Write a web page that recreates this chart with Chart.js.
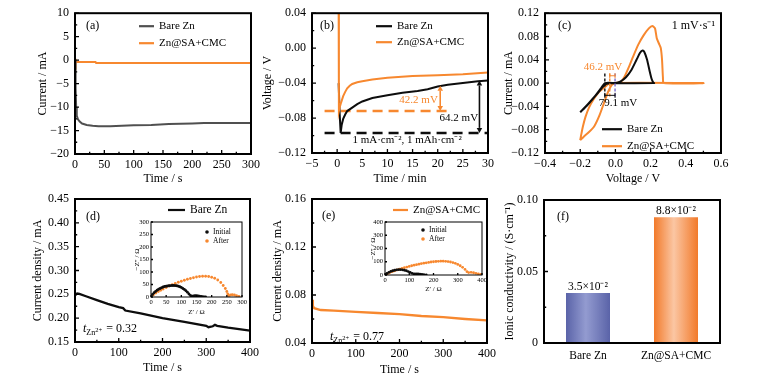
<!DOCTYPE html>
<html>
<head>
<meta charset="utf-8">
<script src="https://cdn.jsdelivr.net/npm/chart.js@4.4.1/dist/chart.umd.min.js"></script>
<style>
  body { margin: 0; background: #fff; width: 759px; height: 382px; position: relative; overflow: hidden; }
  canvas { position: absolute; }
</style>
</head>
<body>
<script>
// ---- data ----
// (a) current vs time
const aTime = [0, 1, 2, 3, 5, 8, 12, 20, 30, 40, 50, 60, 80, 100, 130, 160, 200, 220, 250, 300];
const aBare = [0, -6, -10, -11.8, -12.6, -13.1, -13.5, -13.8, -14.0, -14.1, -14.1, -14.1, -14.0, -13.9, -13.8, -13.6, -13.5, -13.4, -13.4, -13.4];
const aCoatTime = [0, 1, 2, 35, 36, 300];
const aCoat = [0.3, -0.3, -0.35, -0.4, -0.6, -0.6];

// (b) voltage vs time
const bBareTime = [0.3, 0.5, 0.7, 0.9, 1.2, 1.6, 2, 3, 4, 5, 7, 10, 13, 16, 18, 20, 22, 25, 28, 30];
const bBare = [-0.040, -0.075, -0.097, -0.088, -0.081, -0.076, -0.072, -0.068, -0.064, -0.061, -0.057, -0.054, -0.051, -0.049, -0.047, -0.044, -0.042, -0.040, -0.038, -0.037];
const bCoatTime = [0.3, 0.35, 0.5, 0.8, 1.2, 1.6, 2, 2.5, 3, 4, 5, 7, 10, 15, 20, 25, 30];
const bCoat = [0.045, -0.072, -0.068, -0.062, -0.055, -0.050, -0.046, -0.043, -0.041, -0.039, -0.038, -0.036, -0.034, -0.032, -0.031, -0.030, -0.028];
const bDashX = [[-2.5, 22.5], [-2.5, 30]];
const bDashY = [-0.072, -0.097];
const bGapT = [20.5, 28.3];
const bGapTop = [-0.043, -0.037];
const bGapBot = [-0.072, -0.097];

// (c) cyclic voltammetry
const cBareV = [-0.2, -0.15, -0.1, -0.07, -0.05, 0, 0.03, 0.06, 0.09, 0.12, 0.14, 0.155, 0.165, 0.18, 0.195, 0.205, 0.215, 0.22, 0, -0.06, -0.08, -0.12, -0.16, -0.2];
const cBareI = [-0.05, -0.034, -0.017, -0.006, -0.001, 0, 0.003, 0.01, 0.022, 0.04, 0.052, 0.056, 0.053, 0.04, 0.02, 0.008, 0.001, 0, 0, 0, -0.008, -0.024, -0.038, -0.05];
const cCoatV = [-0.2, -0.18, -0.15, -0.12, -0.09, -0.06, -0.04, -0.02, 0, 0.03, 0.05, 0.08, 0.1, 0.13, 0.16, 0.19, 0.21, 0.225, 0.235, 0.25, 0.258, 0.265, 0.27, 0.275, 0.5, -0.03, -0.06, -0.09, -0.12, -0.15, -0.17, -0.185, -0.195, -0.2];
const cCoatI = [-0.098, -0.092, -0.084, -0.074, -0.055, -0.03, -0.014, -0.003, 0, 0.002, 0.01, 0.03, 0.045, 0.066, 0.082, 0.094, 0.098, 0.094, 0.077, 0.066, 0.06, 0.04, 0.01, 0, 0, 0, -0.007, -0.014, -0.026, -0.042, -0.058, -0.075, -0.09, -0.098];
const cMarkV = [-0.06, -0.032, -0.002];

// (d) Bare Zn polarisation + EIS inset
const dTime = [0, 5, 10, 25, 50, 75, 100, 110, 115, 150, 200, 250, 300, 305, 315, 320, 325, 350, 375, 400];
const dBare = [0.248, 0.252, 0.251, 0.246, 0.238, 0.230, 0.223, 0.221, 0.216, 0.210, 0.200, 0.192, 0.184, 0.181, 0.183, 0.186, 0.184, 0.180, 0.177, 0.174];
const dInitRe = [0, 5, 10, 15, 20, 25, 30, 35, 40, 45, 50, 55, 60, 65, 70, 75, 80, 85, 90, 95, 100, 105, 110, 115, 120, 125, 130, 135, 140, 145, 150, 155, 160, 165, 170, 175, 180];
const dInitIm = [0, 10, 17, 22, 27, 31, 34, 37, 40, 42, 43, 44, 45, 45.5, 46, 46, 45.5, 45, 43, 41, 38, 34, 30, 25, 19, 12, 6, 3, 4, 5, 5, 4, 3, 2, 1, 0.5, 0];
const dAfterRe = [0, 8, 16, 24, 32, 40, 50, 60, 70, 80, 90, 100, 110, 120, 130, 140, 150, 160, 170, 180, 190, 200, 210, 220, 230, 238, 245, 250, 253, 256, 262, 268, 275, 282, 290];
const dAfterIm = [0, 9, 16, 22, 27, 32, 38, 44, 49, 54, 59, 63, 67, 71, 74, 77, 80, 82, 83, 83, 82, 79, 75, 68, 58, 46, 34, 22, 12, 5, 8, 9, 8, 5, 2];

// (e) Zn@SA+CMC polarisation + EIS inset
const eTime = [0, 2, 5, 20, 50, 100, 150, 200, 250, 300, 350, 400];
const eCoat = [0.076, 0.071, 0.069, 0.0675, 0.067, 0.066, 0.065, 0.064, 0.0625, 0.0615, 0.060, 0.0588];
const eInitRe = [0, 8, 16, 24, 32, 40, 48, 56, 64, 72, 80, 88, 96, 104, 112, 120, 128, 136, 144, 152, 160, 170];
const eInitIm = [0, 12, 20, 27, 32, 36, 39, 40, 40, 39, 36, 32, 26, 20, 13, 8, 9, 8, 6, 4, 2, 0];
const eAfterRe = [0, 10, 20, 30, 40, 50, 60, 70, 80, 90, 100, 110, 120, 130, 140, 150, 160, 170, 180, 190, 200, 210, 220, 230, 240, 250, 260, 270, 280, 290, 300, 310, 320, 330, 338, 345, 355, 365, 375, 385, 395];
const eAfterIm = [0, 10, 18, 25, 32, 38, 44, 50, 55, 60, 65, 70, 74, 78, 82, 86, 89, 92, 95, 98, 100, 102, 103, 104, 104, 103, 101, 98, 94, 88, 80, 70, 58, 42, 25, 18, 20, 17, 13, 9, 4];

// (f) ionic conductivity
const fCats = ['Bare Zn', 'Zn@SA+CMC'];
const fValues = [0.035, 0.088];
const fLabels = ['3.5×10⁻²', '8.8×10⁻²'];

// ---- styling ----
const SERIF = "'Liberation Serif', 'Times New Roman', serif";
const GRAY = '#505050', BLACK = '#0d0d0d', ORANGE = '#f7882f', PURPLE = '#7a6cc8';
Chart.defaults.font.family = SERIF;
Chart.defaults.font.size = 12;
Chart.defaults.color = '#000';
Chart.defaults.animation = false;
Chart.defaults.responsive = false;
Chart.defaults.plugins.legend.display = false;
Chart.defaults.plugins.tooltip.enabled = false;

const xy = (xs, ys) => xs.map((x, i) => ({ x, y: ys[i] }));
const fmt = (v, d) => {
    if (Math.abs(v) < 1e-9) v = 0;
    return v.toFixed(d).replace('-', '\u2212');
};

function txt(ctx, s, x, y, size, color, align, style) {
    ctx.font = (style || '') + ' ' + size + 'px ' + SERIF;
    ctx.fillStyle = color || '#000';
    ctx.textAlign = align || 'left';
    ctx.textBaseline = 'middle';
    ctx.fillText(s, x, y);
}

function legendLines(ctx, x, y, items, size, gap, len) {
    items.forEach((it, i) => {
        const yy = y + i * gap;
        ctx.strokeStyle = it.color;
        ctx.lineWidth = 2.2;
        ctx.beginPath();
        ctx.moveTo(x, yy);
        ctx.lineTo(x + len, yy);
        ctx.stroke();
        txt(ctx, it.text, x + len + 5, yy, size);
    });
}

function legendDots(ctx, x, y, items, size, gap) {
    items.forEach((it, i) => {
        const yy = y + i * gap;
        ctx.fillStyle = it.color;
        ctx.beginPath();
        ctx.arc(x, yy, 1.8, 0, Math.PI * 2);
        ctx.fill();
        txt(ctx, it.text, x + 6, yy, size);
    });
}

function arrowHead(ctx, x, y, dir, s) {
    ctx.beginPath();
    ctx.moveTo(x, y);
    ctx.lineTo(x - s * 0.55, y - dir * s);
    ctx.lineTo(x + s * 0.55, y - dir * s);
    ctx.closePath();
    ctx.fill();
}

function vDouble(ctx, x, yTop, yBot, color, s) {
    ctx.strokeStyle = color;
    ctx.fillStyle = color;
    ctx.lineWidth = 1.6;
    ctx.beginPath();
    ctx.moveTo(x, yTop + s);
    ctx.lineTo(x, yBot - s);
    ctx.stroke();
    arrowHead(ctx, x, yTop, -1, s);
    arrowHead(ctx, x, yBot, 1, s);
}

function hBracket(ctx, x1, x2, y, color) {
    ctx.strokeStyle = color;
    ctx.lineWidth = 1;
    ctx.beginPath();
    ctx.moveTo(x1, y); ctx.lineTo(x2, y);
    ctx.moveTo(x1, y - 2.5); ctx.lineTo(x1, y + 2.5);
    ctx.moveTo(x2, y - 2.5); ctx.lineTo(x2, y + 2.5);
    ctx.stroke();
}

function tLabel(ctx, x, y, val) {
    txt(ctx, 't', x, y, 12, '#000', 'left', 'italic');
    const w1 = ctx.measureText('t').width;
    txt(ctx, 'Zn', x + w1, y + 4, 8);
    const w2 = ctx.measureText('Zn').width;
    txt(ctx, '2+', x + w1 + w2, y + 1, 6.5);
    const w3 = ctx.measureText('2+').width;
    txt(ctx, ' = ' + val, x + w1 + w2 + w3 + 1, y, 12);
}

// box around the plot with inward ticks
const frame = {
    id: 'frame',
    afterDatasetsDraw(chart, args, o) {
        const { ctx, chartArea: a } = chart;
        const lw = o.lw || 2, len = o.len || 4;
        ctx.save();
        ctx.strokeStyle = '#000';
        ctx.lineWidth = 1.3;
        ctx.beginPath();
        const mark = (scale, horiz) => {
            const t = scale.ticks.map(k => k.value);
            const vals = t.map(v => [v, len]);
            if (o.minor) for (let i = 0; i < t.length - 1; i++) vals.push([(t[i] + t[i + 1]) / 2, len * 0.55]);
            vals.forEach(([v, l]) => {
                const p = scale.getPixelForValue(v);
                if (horiz) { ctx.moveTo(p, a.bottom); ctx.lineTo(p, a.bottom - l); }
                else { ctx.moveTo(a.left, p); ctx.lineTo(a.left + l, p); }
            });
        };
        if (o.xTicks !== false) mark(chart.scales.x, true);
        mark(chart.scales.y, false);
        ctx.stroke();
        ctx.lineWidth = lw;
        ctx.strokeRect(a.left, a.top, a.right - a.left, a.bottom - a.top);
        ctx.restore();
    }
};

function linAxis(min, max, step, dec, title, o) {
    o = o || {};
    return {
        type: 'linear', min: min, max: max,
        grid: { display: false, drawTicks: false },
        border: { display: false },
        ticks: {
            stepSize: step, padding: o.pad || 4, maxRotation: 0, autoSkip: false,
            font: { size: o.size || 12 },
            callback: v => fmt(v, dec)
        },
        title: { display: !!title, text: title, padding: 0, font: { size: o.tsize || 12 } }
    };
}

function panel(box, plot, cfg, frameOpts) {
    const w = box.r - box.l, h = box.b - box.t;
    const c = document.createElement('canvas');
    c.width = w; c.height = h;
    c.style.left = box.l + 'px';
    c.style.top = box.t + 'px';
    c.style.width = w + 'px';
    c.style.height = h + 'px';
    document.body.appendChild(c);
    cfg.options.layout = { padding: { top: plot.t - box.t, right: box.r - plot.r, left: 0, bottom: 0 } };
    cfg.options.scales.x.afterFit = s => { s.height = box.b - plot.b; };
    cfg.options.scales.y.afterFit = s => { s.width = plot.l - box.l; };
    cfg.options.plugins = cfg.options.plugins || {};
    cfg.options.plugins.frame = Object.assign({ minor: true }, frameOpts || {});
    cfg.plugins = (cfg.plugins || []).concat([frame]);
    return new Chart(c.getContext('2d'), cfg);
}

const lineDs = (label, data, color, extra) => Object.assign({
    label: label, data: data, borderColor: color, backgroundColor: color,
    borderWidth: 2, pointRadius: 0, tension: 0, fill: false
}, extra || {});

const dotDs = (label, data, color) => ({
    label: label, data: data, borderColor: color, backgroundColor: color,
    pointRadius: 1.4, pointBorderWidth: 0, showLine: false
});

// ---- (a) ----
panel({ l: 36, t: 0, r: 275, b: 186 }, { l: 75, t: 10, r: 251, b: 154 }, {
    type: 'line',
    data: { datasets: [
        lineDs('Bare Zn', xy(aTime, aBare), GRAY),
        lineDs('Zn@SA+CMC', xy(aCoatTime, aCoat), ORANGE)
    ] },
    options: { scales: {
        x: linAxis(0, 300, 50, 0, 'Time / s'),
        y: linAxis(-20, 10, 5, 0, 'Current / mA', { pad: 6 })
    } },
    plugins: [{ id: 'notesA', afterDraw(chart) {
        const { ctx, chartArea: a } = chart;
        txt(ctx, '(a)', a.left + 11, a.top + 13, 12);
        legendLines(ctx, a.left + 64, a.top + 13, [
            { text: 'Bare Zn', color: GRAY }, { text: 'Zn@SA+CMC', color: ORANGE }
        ], 11, 17, 15);
    } }]
});

// ---- (b) ----
panel({ l: 261, t: 0, r: 505, b: 186 }, { l: 312, t: 10, r: 488, b: 153 }, {
    type: 'line',
    data: { datasets: [
        lineDs('Zn@SA+CMC', xy(bCoatTime, bCoat), ORANGE),
        lineDs('Bare Zn', xy(bBareTime, bBare), BLACK),
        lineDs('', xy(bDashX[0], [bDashY[0], bDashY[0]]), ORANGE, { borderWidth: 2.5, borderDash: [10, 6] }),
        lineDs('', xy(bDashX[1], [bDashY[1], bDashY[1]]), BLACK, { borderWidth: 2.5, borderDash: [10, 6] })
    ] },
    options: { scales: {
        x: linAxis(-5, 30, 5, 0, 'Time / min'),
        y: linAxis(-0.12, 0.04, 0.04, 2, 'Voltage / V', { pad: 6 })
    } },
    plugins: [{ id: 'notesB', afterDraw(chart) {
        const { ctx, chartArea: a, scales: { x, y } } = chart;
        txt(ctx, '(b)', a.left + 8, a.top + 13, 12);
        legendLines(ctx, a.left + 64, a.top + 13, [
            { text: 'Bare Zn', color: BLACK }, { text: 'Zn@SA+CMC', color: ORANGE }
        ], 11, 16, 16);
        const cols = [ORANGE, BLACK];
        bGapT.forEach((t, i) => {
            vDouble(ctx, x.getPixelForValue(t), y.getPixelForValue(bGapTop[i]), y.getPixelForValue(bGapBot[i]), cols[i], 5);
        });
        txt(ctx, '42.2 mV', x.getPixelForValue(16.2), y.getPixelForValue(-0.0596), 11, ORANGE, 'center');
        txt(ctx, '64.2 mV', x.getPixelForValue(24.2), y.getPixelForValue(-0.0797), 11, '#000', 'center');
        txt(ctx, '1 mA·cm⁻², 1 mAh·cm⁻²', x.getPixelForValue(13.9), y.getPixelForValue(-0.1058), 11, '#000', 'center');
    } }]
});

// ---- (c) ----
panel({ l: 502, t: 0, r: 759, b: 186 }, { l: 545, t: 10, r: 721, b: 153 }, {
    type: 'line',
    data: { datasets: [
        lineDs('Bare Zn', xy(cBareV, cBareI), BLACK, { tension: 0.2 }),
        lineDs('Zn@SA+CMC', xy(cCoatV, cCoatI), ORANGE, { tension: 0.2 })
    ] },
    options: { scales: {
        x: linAxis(-0.4, 0.6, 0.2, 1, 'Voltage / V'),
        y: linAxis(-0.12, 0.12, 0.04, 2, 'Current / mA', { pad: 6 })
    } },
    plugins: [{ id: 'notesC', afterDraw(chart) {
        const { ctx, chartArea: a, scales: { x, y } } = chart;
        txt(ctx, '(c)', a.left + 13, a.top + 13, 12);
        txt(ctx, '1 mV·s⁻¹', a.right - 6, a.top + 13, 12, '#000', 'right');
        legendLines(ctx, a.left + 57, a.top + 116, [
            { text: 'Bare Zn', color: BLACK }, { text: 'Zn@SA+CMC', color: ORANGE }
        ], 11, 17, 20);
        const cols = [BLACK, ORANGE, PURPLE];
        const yt = y.getPixelForValue(0.0165), yb = y.getPixelForValue(-0.0255);
        ctx.save();
        ctx.lineWidth = 1.4;
        ctx.setLineDash([3, 2]);
        cMarkV.forEach((v, i) => {
            const px = x.getPixelForValue(v);
            ctx.strokeStyle = cols[i];
            ctx.beginPath(); ctx.moveTo(px, yt); ctx.lineTo(px, yb); ctx.stroke();
        });
        ctx.restore();
        hBracket(ctx, x.getPixelForValue(cMarkV[1]), x.getPixelForValue(cMarkV[2]), y.getPixelForValue(0.0126), ORANGE);
        hBracket(ctx, x.getPixelForValue(cMarkV[0]), x.getPixelForValue(cMarkV[2]), y.getPixelForValue(-0.021), BLACK);
        txt(ctx, '46.2 mV', a.left + 58, a.top + 54, 11, ORANGE, 'center');
        txt(ctx, '79.1 mV', a.left + 73, a.top + 90, 11, '#000', 'center');
    } }]
});

// ---- (d) ----
panel({ l: 31, t: 185, r: 270, b: 375 }, { l: 75, t: 199, r: 250, b: 342 }, {
    type: 'line',
    data: { datasets: [lineDs('Bare Zn', xy(dTime, dBare), BLACK, { borderWidth: 2.3 })] },
    options: { scales: {
        x: linAxis(0, 400, 100, 0, 'Time / s'),
        y: linAxis(0.15, 0.45, 0.05, 2, 'Current density / mA', { pad: 6 })
    } },
    plugins: [{ id: 'notesD', afterDraw(chart) {
        const { ctx, chartArea: a } = chart;
        txt(ctx, '(d)', a.left + 11, a.top + 18, 12);
        legendLines(ctx, a.left + 93, a.top + 11, [{ text: 'Bare Zn', color: BLACK }], 11.5, 16, 17);
        tLabel(ctx, a.left + 8, a.top + 130, '0.32');
    } }]
});

// inset (d)
panel({ l: 133, t: 214, r: 252, b: 316 }, { l: 151, t: 222, r: 242, b: 297 }, {
    type: 'scatter',
    data: { datasets: [
        dotDs('Initial', xy(dInitRe, dInitIm), BLACK),
        dotDs('After', xy(dAfterRe, dAfterIm), ORANGE)
    ] },
    options: { scales: {
        x: linAxis(0, 300, 50, 0, 'Z\u2032 / Ω', { pad: 1, size: 6.5, tsize: 7 }),
        y: linAxis(0, 300, 50, 0, '\u2212Z\u2033 / Ω', { pad: 2, size: 6.5, tsize: 7 })
    } },
    plugins: [{ id: 'legD', afterDraw(chart) {
        const { ctx, chartArea: a } = chart;
        legendDots(ctx, a.left + 56, a.top + 10, [
            { text: 'Initial', color: BLACK }, { text: 'After', color: ORANGE }
        ], 7.5, 9);
    } }]
}, { lw: 1, len: 2, minor: false });

// ---- (e) ----
panel({ l: 271, t: 185, r: 505, b: 377 }, { l: 312, t: 199, r: 487, b: 343 }, {
    type: 'line',
    data: { datasets: [lineDs('Zn@SA+CMC', xy(eTime, eCoat), ORANGE, { borderWidth: 2.3 })] },
    options: { scales: {
        x: linAxis(0, 400, 100, 0, 'Time / s'),
        y: linAxis(0.04, 0.16, 0.04, 2, 'Current density / mA', { pad: 6 })
    } },
    plugins: [{ id: 'notesE', afterDraw(chart) {
        const { ctx, chartArea: a } = chart;
        txt(ctx, '(e)', a.left + 10, a.top + 17, 12);
        legendLines(ctx, a.left + 81, a.top + 11, [{ text: 'Zn@SA+CMC', color: ORANGE }], 11, 16, 15);
        tLabel(ctx, a.left + 18, a.top + 138, '0.77');
    } }]
});

// inset (e)
panel({ l: 369, t: 214, r: 494, b: 293 }, { l: 385, t: 222, r: 482, b: 275 }, {
    type: 'scatter',
    data: { datasets: [
        dotDs('Initial', xy(eInitRe, eInitIm), BLACK),
        dotDs('After', xy(eAfterRe, eAfterIm), ORANGE)
    ] },
    options: { scales: {
        x: linAxis(0, 400, 100, 0, 'Z\u2032 / Ω', { pad: 1, size: 6.5, tsize: 7 }),
        y: linAxis(0, 400, 100, 0, '\u2212Z\u2033 / Ω', { pad: 2, size: 6.5, tsize: 7 })
    } },
    plugins: [{ id: 'legE', afterDraw(chart) {
        const { ctx, chartArea: a } = chart;
        legendDots(ctx, a.left + 38, a.top + 8, [
            { text: 'Initial', color: BLACK }, { text: 'After', color: ORANGE }
        ], 7.5, 9);
    } }]
}, { lw: 1, len: 2, minor: false });

// ---- (f) ----
const fEdge = ['#5a63a8', '#f27a2a'];
const fMid = ['#939bd0', '#fbc6a3'];
panel({ l: 503, t: 185, r: 759, b: 382 }, { l: 544, t: 200, r: 720, b: 343 }, {
    type: 'bar',
    data: {
        labels: fCats,
        datasets: [{
            data: fValues,
            barPercentage: 0.5,
            categoryPercentage: 1,
            borderWidth: 0,
            backgroundColor: c => {
                const ch = c.chart, a = ch.chartArea;
                if (!a || !ch.scales.x) return fEdge[c.dataIndex];
                const cx = ch.scales.x.getPixelForValue(c.dataIndex);
                const hw = (a.right - a.left) / fCats.length * 0.25;
                const g = ch.ctx.createLinearGradient(cx - hw, 0, cx + hw, 0);
                g.addColorStop(0, fEdge[c.dataIndex]);
                g.addColorStop(0.45, fMid[c.dataIndex]);
                g.addColorStop(1, fEdge[c.dataIndex]);
                return g;
            }
        }]
    },
    options: { scales: {
        x: {
            type: 'category',
            grid: { display: false, drawTicks: false },
            border: { display: false },
            ticks: { padding: 6, font: { size: 11.5 } }
        },
        y: {
            type: 'linear', min: 0, max: 0.1,
            grid: { display: false, drawTicks: false },
            border: { display: false },
            ticks: { stepSize: 0.05, padding: 6, callback: v => (Math.abs(v) < 1e-9 ? '0' : v.toFixed(2)) },
            title: { display: true, text: 'Ionic conductivity / (S·cm⁻¹)', padding: 0, font: { size: 12 } }
        }
    } },
    plugins: [{ id: 'notesF', afterDraw(chart) {
        const { ctx, chartArea: a, scales: { x, y } } = chart;
        txt(ctx, '(f)', a.left + 13, a.top + 17, 12);
        fValues.forEach((v, i) => {
            txt(ctx, fLabels[i], x.getPixelForValue(i), y.getPixelForValue(v) - 6, 11.5, '#000', 'center');
        });
    } }]
}, { xTicks: false });
</script>
</body>
</html>
